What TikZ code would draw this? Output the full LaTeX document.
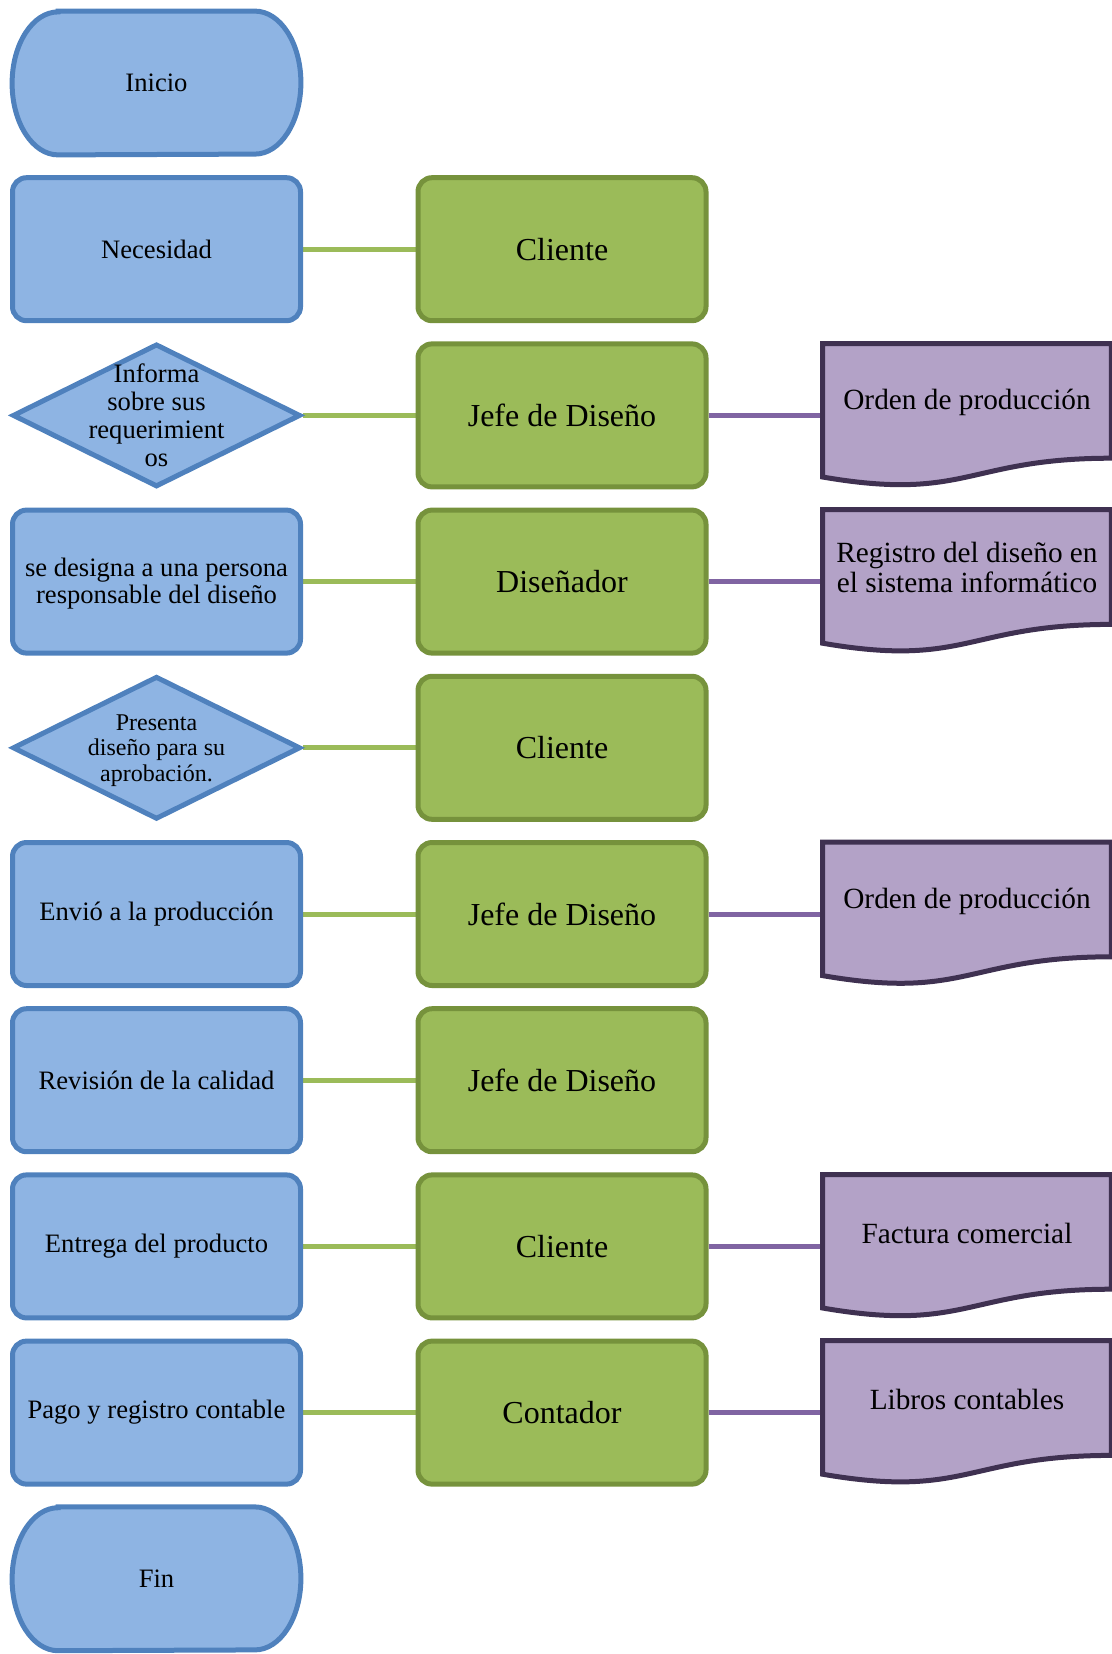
\documentclass[tikz,border=0pt]{standalone}
\usepackage{fontspec}
\setmainfont{Liberation Serif}
\usetikzlibrary{shapes.geometric,calc,backgrounds}

\definecolor{procfill}{HTML}{8EB4E3}
\definecolor{procline}{HTML}{4F81BD}
\definecolor{rolefill}{HTML}{9BBB59}
\definecolor{roleline}{HTML}{76923C}
\definecolor{docfill}{HTML}{B3A2C7}
\definecolor{docline}{HTML}{3F3151}
\definecolor{linkgreen}{HTML}{9BBB59}
\definecolor{linkpurple}{HTML}{8064A2}

\begin{document}
\begin{tikzpicture}[x=0.5pt,y=-0.5pt,
  boxsize/.style={minimum width=144pt, minimum height=71.5pt},
  proc/.style={boxsize, rectangle, rounded corners=7pt, draw=procline, fill=procfill,
    line width=2.5pt, inner sep=2pt, align=center,
    font=\fontsize{13.3}{13.7}\selectfont},
  decision/.style={boxsize, diamond, draw=procline, fill=procfill, line width=2.5pt,
    inner sep=0pt},
  dtext/.style={align=center, inner sep=0pt},
  term/.style={boxsize, rectangle, inner sep=0pt, font=\fontsize{13.3}{13.7}\selectfont},
  termline/.style={draw=procline, fill=procfill, line width=2.5pt},
  role/.style={boxsize, rectangle, rounded corners=7pt, draw=roleline, fill=rolefill,
    line width=2.5pt, inner sep=2pt, align=center,
    font=\fontsize{16}{18}\selectfont},
  docbox/.style={boxsize, rectangle, inner sep=0pt},
  doctext/.style={align=center, inner sep=0pt, yshift=7.08pt,
    font=\fontsize{14.65}{14.8}\selectfont},
  docshape/.style={draw=docline, fill=docfill, line width=2.5pt},
  glink/.style={draw=linkgreen, line width=2.5pt},
  plink/.style={draw=linkpurple, line width=2.5pt}
]
\useasboundingbox (0,0) rectangle (1112,1654);

% left column: process steps
\node[term] (ini) at (156.5,83) {Inicio};
\node[proc] (p1) at (156.5,249.2) {Necesidad};
\node[decision, label={[dtext, font=\fontsize{13.3}{14}\selectfont]center:{Informa\\sobre sus\\requerimient\\os}}] (p2) at (156.5,415.4) {};
\node[proc, inner ysep=0pt, text depth=0.6pt] (p3) at (156.5,581.6) {se designa a una persona\\responsable del diseño};
\node[decision, label={[dtext, yshift=-1.3pt, font=\fontsize{12}{12.65}\selectfont]center:{Presenta\\diseño para su\\aprobación.}}] (p4) at (156.5,747.8) {};
\node[proc] (p5) at (156.5,914) {Envió a la producción};
\node[proc] (p6) at (156.5,1080.2) {Revisión de la calidad};
\node[proc] (p7) at (156.5,1246.4) {Entrega del producto};
\node[proc] (p8) at (156.5,1412.6) {Pago y registro contable};
\node[term] (fin) at (156.5,1578.8) {Fin};

% middle column: responsible roles
\node[role] (r1) at (562,249.2) {Cliente};
\node[role] (r2) at (562,415.4) {Jefe de Diseño};
\node[role] (r3) at (562,581.6) {Diseñador};
\node[role] (r4) at (562,747.8) {Cliente};
\node[role] (r5) at (562,914) {Jefe de Diseño};
\node[role] (r6) at (562,1080.2) {Jefe de Diseño};
\node[role] (r7) at (562,1246.4) {Cliente};
\node[role] (r8) at (562,1412.6) {Contador};

% right column: documents
\node[docbox, label={[doctext, yshift=-0.8pt]center:{Orden de producción}}] (d2) at (967,415.4) {};
\node[docbox, label={[doctext]center:{Registro del diseño en\\el sistema informático}}] (d3) at (967,581.6) {};
\node[docbox, label={[doctext, yshift=-0.8pt]center:{Orden de producción}}] (d5) at (967,914) {};
\node[docbox, label={[doctext, yshift=-0.5pt]center:{Factura comercial}}] (d7) at (967,1246.4) {};
\node[docbox, label={[doctext, yshift=-0.5pt]center:{Libros contables}}] (d8) at (967,1412.6) {};

\begin{scope}[on background layer]
  % connectors
  \foreach \a/\b in {p1/r1,p2/r2,p3/r3,p4/r4,p5/r5,p6/r6,p7/r7,p8/r8}
    \draw[glink] (\a.east) -- (\b.west);
  \foreach \a/\b in {r2/d2,r3/d3,r5/d5,r7/d7,r8/d8}
    \draw[plink] (\a.east) -- (\b.west);
  % terminator outlines
  \foreach \t in {ini,fin}
    \path[termline] let \p1=(\t.north west), \p2=(\t.south east) in
      (\x1+23pt,\y1) -- (\x2-23pt,\y1)
      arc[start angle=90, end angle=-90, x radius=23pt, y radius=35.75pt]
      -- (\x1+23pt,\y2)
      arc[start angle=270, end angle=90, x radius=23pt, y radius=35.75pt]
      -- cycle;
  % document outlines with wavy bottom
  \foreach \d in {d2,d3,d5,d7,d8}
    \path[docshape] let \p1=(\d.north west), \p2=(\d.south east) in
      (\x1,\y1) -- (\x2,\y1) -- (\x2,\y1-57.35pt)
      .. controls ({(\x1+\x2)/2},\y1-57.35pt) and ({(\x1+\x2)/2},\y1-79.2pt) ..
      (\x1,\y1-66.75pt) -- cycle;
\end{scope}
\end{tikzpicture}
\end{document}
